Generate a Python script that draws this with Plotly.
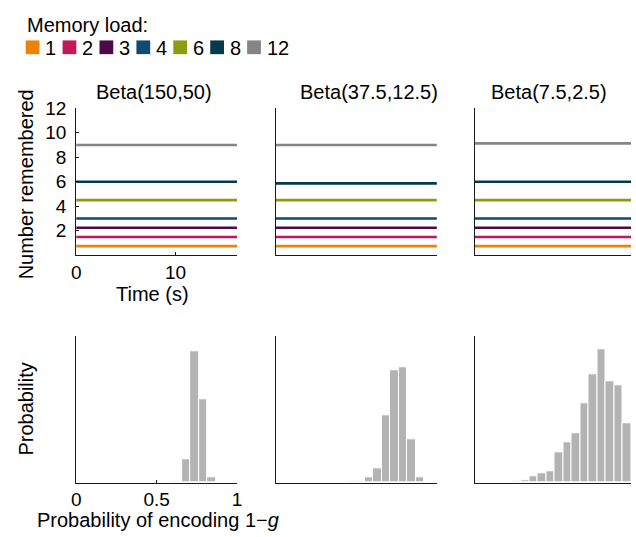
import plotly.graph_objects as go

# ---------------- data ----------------
loads = [1, 2, 3, 4, 6, 8, 12]
load_colors = ["#EE8208", "#C2185B", "#4B0C45", "#0F4A73", "#8C9C10", "#053A4A", "#858585"]

time_s = [0.0, 16.2]

# number of items remembered for each memory load (flat over time)
remembered_150_50 = [0.75, 1.5, 2.25, 3.0, 4.5, 6.0, 9.0]
remembered_37_12 = [0.75, 1.5, 2.25, 3.0, 4.5, 5.87, 9.0]
remembered_7_2 = [0.75, 1.5, 2.25, 3.0, 4.5, 6.0, 9.13]

# histogram bins: centres k/19, width 1/19
bin_k_150_50 = [12, 13, 14, 15, 16]
prob_150_50 = [0.004, 0.097, 0.54, 0.34, 0.02]

bin_k_37_12 = [9, 10, 11, 12, 13, 14, 15, 16, 17]
prob_37_12 = [0.003, 0.003, 0.015, 0.040, 0.183, 0.308, 0.314, 0.119, 0.015]

bin_k_7_2 = [5, 6, 7, 8, 9, 10, 11, 12, 13, 14, 15, 16, 17, 18]
prob_7_2 = [0.0013, 0.003, 0.009, 0.012, 0.016, 0.042, 0.055, 0.068,
            0.109, 0.148, 0.182, 0.139, 0.133, 0.081]

panel_titles = ["Beta(150,50)", "Beta(37.5,12.5)", "Beta(7.5,2.5)"]

# ---------------- layout helpers ----------------
W, H = 636, 537
FONT = "Liberation Sans, Arial, Helvetica, sans-serif"


def fx(px):
    return px / W


def fy(py):
    return 1 - py / H


col_px = [(72.3, 235.7), (275.3, 439.0), (477.0, 636.0)]
top_px = (100.0, 250.0)
bot_px = (332.5, 481.5)
x_scale_top = (235.7 - 72.3) / 16.2     # px per second
x_scale_bot = 163.4                     # px per probability unit

fig = go.Figure()

line_sets = [remembered_150_50, remembered_37_12, remembered_7_2]
hist_sets = [(bin_k_150_50, prob_150_50), (bin_k_37_12, prob_37_12), (bin_k_7_2, prob_7_2)]
y_tops = [0.6, 0.4, 0.2]

for p in range(3):
    xa = "x" if p == 0 else f"x{p + 1}"
    ya = "y" if p == 0 else f"y{p + 1}"
    for load, col, val in zip(loads, load_colors, line_sets[p]):
        fig.add_trace(go.Scatter(
            x=time_s, y=[val, val], mode="lines",
            line=dict(color=col, width=2.6),
            xaxis=xa, yaxis=ya, showlegend=False, hoverinfo="skip"))

    ks, probs = hist_sets[p]
    xb = f"x{p + 4}"
    yb = f"y{p + 4}"
    fig.add_trace(go.Bar(
        x=[k / 19 for k in ks], y=probs, width=1 / 19,
        marker=dict(color="#B3B3B3", line=dict(color="white", width=1)),
        xaxis=xb, yaxis=yb, showlegend=False, hoverinfo="skip"))

axis_common = dict(showgrid=False, zeroline=False, showline=True,
                   linecolor="#1a1a1a", linewidth=1,
                   tickfont=dict(family=FONT, size=19, color="black"))

layout = dict(
    width=W, height=H,
    margin=dict(l=0, r=0, t=0, b=0),
    paper_bgcolor="white", plot_bgcolor="white",
    font=dict(family=FONT, size=20, color="black"),
    bargap=0,
)

for p in range(3):
    x0, x1 = col_px[p]
    vis_top = 16.2 if p == 0 else (x1 - x0) / x_scale_top
    vis_bot = 1.0 if p == 0 else (x1 - x0) / x_scale_bot
    first = p == 0
    tk = dict(ticks="inside", ticklen=3, tickcolor="#1a1a1a", showticklabels=True) if first \
        else dict(ticks="", showticklabels=False)

    xt = dict(axis_common, domain=[fx(x0), fx(x1)], range=[0, vis_top],
              anchor="y" if first else f"y{p + 1}", **tk)
    if first:
        xt.update(tickvals=[0, 10], ticktext=["0", "10"])
    yt = dict(axis_common, domain=[fy(top_px[1]), fy(top_px[0])], range=[0, 12],
              anchor="x" if first else f"x{p + 1}", **tk)
    if first:
        yt.update(tickvals=[2, 4, 6, 8, 10, 12], ticklabelstandoff=5)

    xbb = dict(axis_common, domain=[fx(x0), fx(x1)], range=[0, vis_bot],
               anchor=f"y{p + 4}", **tk)
    if first:
        xbb.update(tickvals=[0, 0.5, 1], ticktext=["0", "0.5", "1"])
    ybb = dict(axis_common, domain=[fy(bot_px[1]), fy(bot_px[0])], range=[0, y_tops[p]],
               anchor=f"x{p + 4}", ticks="", showticklabels=False)

    layout["xaxis" if first else f"xaxis{p + 1}"] = xt
    layout["yaxis" if first else f"yaxis{p + 1}"] = yt
    layout[f"xaxis{p + 4}"] = xbb
    layout[f"yaxis{p + 4}"] = ybb

fig.update_layout(**layout)

# ---------------- text ----------------
ann = []


def text(s, x, y, size=20, xanchor="center", angle=0):
    ann.append(dict(text=s, x=fx(x), y=fy(y), xref="paper", yref="paper",
                    xanchor=xanchor, yanchor="middle", showarrow=False,
                    textangle=angle, font=dict(family=FONT, size=size, color="black")))


title_cx = [151.5, 370.0, 552.5]
for t, cx in zip(panel_titles, title_cx):
    text(t, cx, 84)

text("Number remembered", 21, 178, angle=-90)
text("Time (s)", 150, 289)
text("Probability", 21.5, 407, angle=-90)
text("Probability of encoding 1\u2212<i>g</i>", 155, 520)

# legend: title plus coloured squares with load labels
text("Memory load:", 20, 15, xanchor="left")
shapes = []
lx = 21.0
step = 37.5
for load, col in zip(loads, load_colors):
    shapes.append(dict(type="rect", xref="paper", yref="paper",
                       x0=fx(lx), x1=fx(lx + 14), y0=fy(45), y1=fy(31),
                       fillcolor=col, line=dict(width=0)))
    text(str(load), lx + 18, 38.5, xanchor="left")
    lx += step

fig.update_layout(annotations=ann, shapes=shapes)
fig.write_html("out.html")
